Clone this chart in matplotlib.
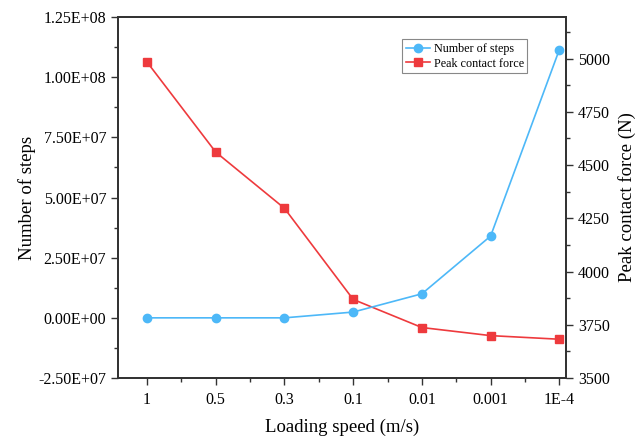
import matplotlib
matplotlib.use('Agg')
import matplotlib.pyplot as plt
from matplotlib.ticker import MultipleLocator, FuncFormatter

# dados
speeds = ['1', '0.5', '0.3', '0.1', '0.01', '0.001', '1E-4']
steps = [0.0, 0.0, 0.0, 2.4e6, 1.0e7, 3.4e7, 1.115e8]
force = [4984, 4561, 4297, 3869, 3737, 3699, 3682]

plt.rcParams['font.family'] = ['Liberation Serif', 'DejaVu Serif']

azul = '#4db8f8'
verm = '#ee3a3d'

fig = plt.figure(figsize=(6.42, 4.38), dpi=100)
ax = fig.add_axes([0.184, 0.137, 0.698, 0.824])
ax2 = ax.twinx()

x = list(range(len(speeds)))
l1, = ax.plot(x, steps, '-o', color=azul, lw=1.2, ms=6, label='Number of steps')
l2, = ax2.plot(x, force, '-s', color=verm, lw=1.2, ms=6, label='Peak contact force')

ax.set_xlim(-0.42, 6.1)
ax.set_ylim(-2.5e7, 1.25e8)
ax2.set_ylim(3500, 5195)

ax.set_xticks(x)
ax.set_xticklabels(speeds)
ax.xaxis.set_minor_locator(MultipleLocator(0.5))
ax.yaxis.set_major_locator(MultipleLocator(2.5e7))
ax.yaxis.set_minor_locator(MultipleLocator(1.25e7))
ax.yaxis.set_major_formatter(FuncFormatter(lambda v, p: '{:.2E}'.format(v)))
ax2.yaxis.set_major_locator(MultipleLocator(250))
ax2.yaxis.set_minor_locator(MultipleLocator(125))

for a in (ax, ax2):
    a.tick_params(which='major', direction='out', length=5, width=1, labelsize=11.5, color='#333333')
    a.tick_params(which='minor', direction='out', length=3, width=1, color='#333333')
    for s in a.spines.values():
        s.set_linewidth(1.3)
        s.set_color('#333333')
ax.tick_params(axis='x', which='major', pad=5)

ax.set_xlabel('Loading speed (m/s)', fontsize=13.5, labelpad=8)
ax.set_ylabel('Number of steps', fontsize=13.5, labelpad=2)
ax2.set_ylabel('Peak contact force (N)', fontsize=13.5, labelpad=6)

leg = ax.legend(handles=[l1, l2], loc='upper left', bbox_to_anchor=(0.634, 0.938),
                borderaxespad=0, fontsize=8.7, fancybox=False, edgecolor='#888888',
                framealpha=1, handlelength=2.0, borderpad=0.3, labelspacing=0.2,
                handletextpad=0.3)
leg.get_frame().set_linewidth(0.8)
ax.set_zorder(ax2.get_zorder() + 1)
ax.patch.set_visible(False)

fig.savefig('out.png', dpi=100)
